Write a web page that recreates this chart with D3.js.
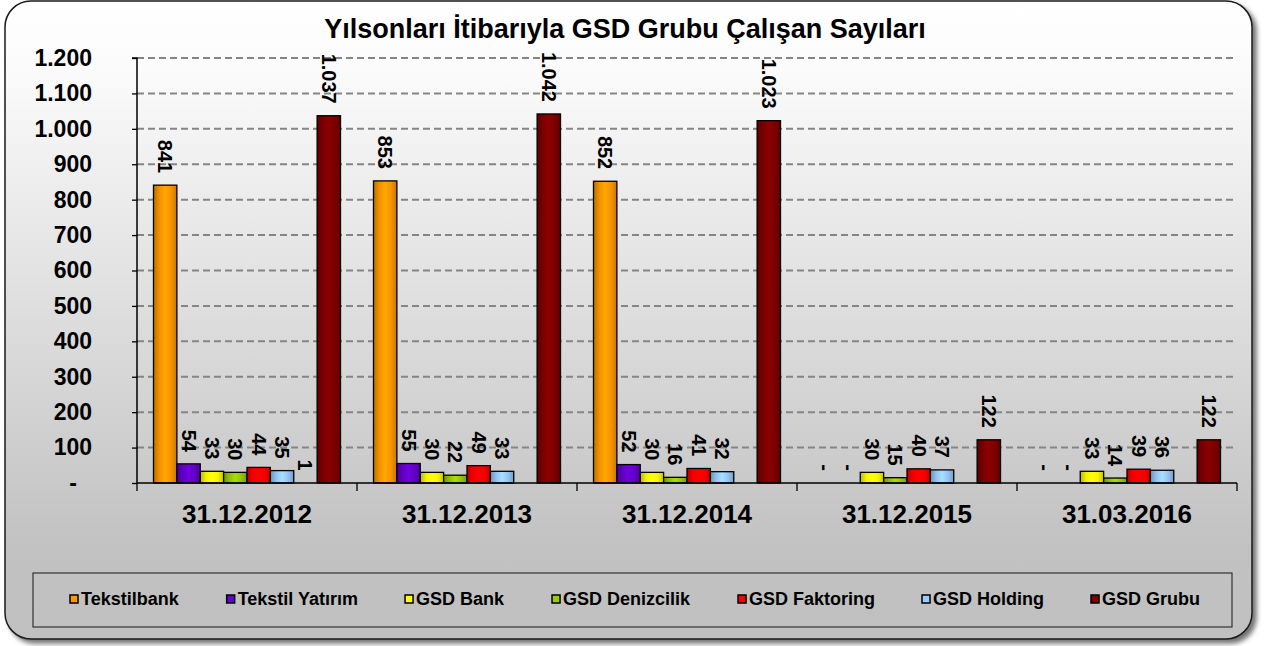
<!DOCTYPE html>
<html><head><meta charset="utf-8">
<script src="https://cdn.jsdelivr.net/npm/d3@7/dist/d3.min.js"></script>
<style>
html,body{margin:0;padding:0;background:#ffffff;}
svg{display:block;font-family:"Liberation Sans",Arial,sans-serif;}
</style></head>
<body>
<svg id="chart" width="1266" height="646"></svg>
<script>
const title = "Yılsonları İtibarıyla GSD Grubu Çalışan Sayıları";
const categories = ["31.12.2012","31.12.2013","31.12.2014","31.12.2015","31.03.2016"];
const seriesNames = ["Tekstilbank","Tekstil Yatırım","GSD Bank","GSD Denizcilik","GSD Faktoring","GSD Holding","","GSD Grubu"];
const tekstilbank    = [841, 853, 852, 0, 0];
const tekstilYatirim = [54, 55, 52, 0, 0];
const gsdBank        = [33, 30, 30, 30, 33];
const gsdDenizcilik  = [30, 22, 16, 15, 14];
const gsdFaktoring   = [44, 49, 41, 40, 39];
const gsdHolding     = [35, 33, 32, 37, 36];
const unlabeled      = [1, null, null, null, null];
const gsdGrubu       = [1037, 1042, 1023, 122, 122];
const seriesValues = [tekstilbank, tekstilYatirim, gsdBank, gsdDenizcilik, gsdFaktoring, gsdHolding, unlabeled, gsdGrubu];
const seriesColors = ["#ff9900","#6600cc","#ffff00","#99cc00","#ff0000","#99ccff","#cc99ff","#800000"];
const yTicks = [0,100,200,300,400,500,600,700,800,900,1000,1100,1200];

const svg = d3.select("#chart");
const defs = svg.append("defs");

// background gradient
const bg = defs.append("linearGradient").attr("id","bgGrad").attr("x1",0).attr("y1",0).attr("x2",0).attr("y2",1);
bg.append("stop").attr("offset","0%").attr("stop-color","#ffffff");
bg.append("stop").attr("offset","12%").attr("stop-color","#fafafa");
bg.append("stop").attr("offset","85%").attr("stop-color","#c2c2c2");
bg.append("stop").attr("offset","100%").attr("stop-color","#c0c0c0");

const sh = defs.append("filter").attr("id","shadow").attr("x","-5%").attr("y","-5%").attr("width","110%").attr("height","110%");
sh.append("feGaussianBlur").attr("in","SourceAlpha").attr("stdDeviation",2.5).attr("result","b");
sh.append("feOffset").attr("in","b").attr("dx",4).attr("dy",4).attr("result","o");
sh.append("feComponentTransfer").attr("in","o").attr("result","o2").append("feFuncA").attr("type","linear").attr("slope",0.55);
const mg = sh.append("feMerge");
mg.append("feMergeNode").attr("in","o2");
mg.append("feMergeNode").attr("in","SourceGraphic");

// bar gradients
seriesColors.forEach((c,i)=>{
  const g = defs.append("linearGradient").attr("id","bar"+i).attr("x1",0).attr("y1",0).attr("x2",1).attr("y2",0);
  const base = d3.color(c);
  g.append("stop").attr("offset","0%").attr("stop-color", base.darker(0.9));
  g.append("stop").attr("offset","25%").attr("stop-color", base.darker(0.15));
  g.append("stop").attr("offset","50%").attr("stop-color", base.brighter(0.25));
  g.append("stop").attr("offset","75%").attr("stop-color", base.darker(0.1));
  g.append("stop").attr("offset","100%").attr("stop-color", base.darker(0.7));
});

// outer frame
svg.append("rect").attr("x",5).attr("y",1).attr("width",1247).attr("height",638)
  .attr("rx",26).attr("ry",26).attr("fill","url(#bgGrad)").attr("stroke","#1a1a1a").attr("stroke-width",1.5)
  .attr("filter","url(#shadow)");

// title
svg.append("text").attr("x",625).attr("y",38).attr("text-anchor","middle")
  .attr("font-size",27).attr("font-weight","bold").attr("fill","#000").text(title);

const plotL = 137, plotR = 1237, plotT = 58, plotB = 483;
const x0 = d3.scaleBand().domain(categories).range([plotL, plotR]).paddingInner(0.15).paddingOuter(0.075);
const x1 = d3.scaleBand().domain(d3.range(seriesNames.length)).range([0, x0.bandwidth()]).padding(0);
const y = d3.scaleLinear().domain([0,1200]).range([plotB, plotT]);

const loc = d3.formatLocale({decimal:",", thousands:".", grouping:[3], currency:["",""]});
const fmt = loc.format(",d");
const fmtVal = v => v === 0 ? "-" : fmt(v);

// gridlines
svg.append("g").selectAll("line").data(yTicks.filter(t=>t>0)).join("line")
  .attr("x1",plotL).attr("x2",plotR).attr("y1",d=>y(d)).attr("y2",d=>y(d))
  .attr("stroke","#858585").attr("stroke-width",2).attr("stroke-dasharray","7,4");

// bars
const groups = svg.append("g").selectAll("g").data(categories).join("g")
  .attr("transform", d=>`translate(${x0(d)},0)`);
seriesValues.forEach((vals, si)=>{
  groups.each(function(cat, ci){
    const v = vals[ci];
    if (v === null || v === undefined) return;
    const g = d3.select(this);
    if (v > 0) {
      g.append("rect").attr("x", x1(si)).attr("width", x1.bandwidth())
        .attr("y", y(v)).attr("height", y(0)-y(v))
        .attr("fill", `url(#bar${si})`).attr("stroke", si===6 ? "none" : "#000").attr("stroke-width",1.3);
    }
  });
});
// labels
seriesValues.forEach((vals, si)=>{
  groups.each(function(cat, ci){
    const v = vals[ci];
    if (v === null || v === undefined) return;
    const g = d3.select(this);
    const cx = x1(si) + x1.bandwidth()/2;
    g.append("text").attr("transform", `translate(${cx},${y(v)-12}) rotate(90)`)
      .attr("text-anchor","end").attr("dominant-baseline","central")
      .attr("font-size",20).attr("font-weight","bold").attr("fill","#000")
      .text(fmtVal(v));
  });
});

// y axis
const yAxis = d3.axisLeft(y).tickValues(yTicks).tickSize(5).tickPadding(40).tickFormat(d=> d===0 ? "-" : fmt(d));
const ya = svg.append("g").attr("transform",`translate(${plotL},0)`).call(yAxis);
ya.select(".domain").attr("stroke","#000").attr("stroke-width",1.5).attr("d",`M-5,${plotT}H0V${plotB}`);
ya.selectAll(".tick line").attr("stroke","#000").attr("stroke-width",1.3);
ya.selectAll(".tick text").attr("font-size",23).attr("font-weight","bold").attr("fill","#000")
  .attr("font-family","'Liberation Sans',Arial,sans-serif")
  .attr("dx", d=> d===0 ? -15 : 0);

// x axis
const xa = svg.append("g").attr("transform",`translate(0,${plotB})`);
xa.append("line").attr("x1",plotL).attr("x2",plotR).attr("y1",0).attr("y2",0).attr("stroke","#000").attr("stroke-width",1.5);
const bounds = categories.map(c=>x0(c) - x0.step()*x0.paddingInner()/2).concat([plotR]);
xa.selectAll("line.tk").data(bounds).join("line").attr("class","tk")
  .attr("x1",d=>d).attr("x2",d=>d).attr("y1",0).attr("y2",8).attr("stroke","#000").attr("stroke-width",1.3);
xa.selectAll("text").data(categories).join("text")
  .attr("x", d=>x0(d)+x0.bandwidth()/2).attr("y",40).attr("text-anchor","middle")
  .attr("font-size",26).attr("font-weight","bold").attr("fill","#000").text(d=>d);

// legend
const lgX = 33, lgY = 573, lgW = 1199, lgH = 54;
svg.append("rect").attr("x",lgX).attr("y",lgY).attr("width",lgW).attr("height",lgH)
  .attr("fill","none").attr("stroke","#333").attr("stroke-width",1.2);
const legendItems = seriesNames.map((n,i)=>({name:n, i})).filter(d=>d.name !== "");
const lg = svg.append("g");
const items = lg.selectAll("g").data(legendItems).join("g");
items.append("rect").attr("width",8).attr("height",8).attr("y",-10)
  .attr("fill",d=>seriesColors[d.i]).attr("stroke","#000").attr("stroke-width",1.5);
items.append("text").attr("x",11).attr("y",0).attr("font-size",18).attr("font-weight","bold").attr("fill","#000").text(d=>d.name);
const widths = [];
items.each(function(){ widths.push(this.getBBox().width); });
const spanStart = 70, spanEnd = 1200;
const gap = (spanEnd - spanStart - d3.sum(widths)) / (widths.length - 1);
let cx = spanStart;
items.each(function(d,k){ d3.select(this).attr("transform",`translate(${cx},605)`); cx += widths[k] + gap; });
</script>
</body></html>
